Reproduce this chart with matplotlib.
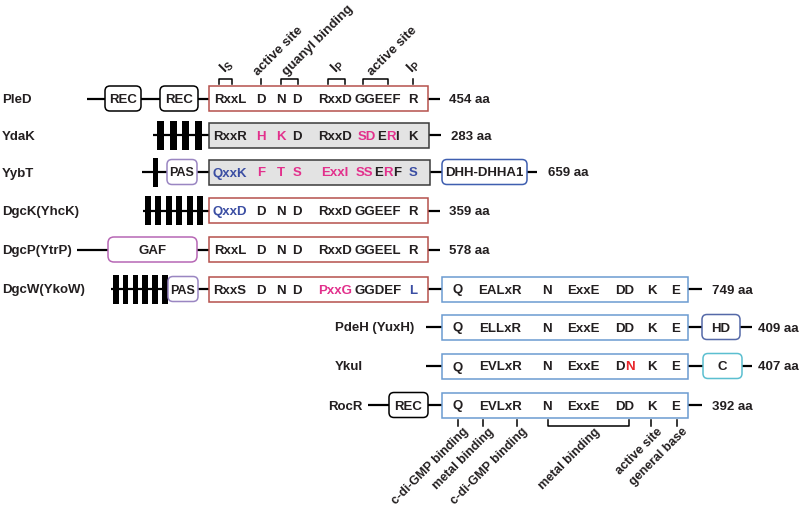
import matplotlib
matplotlib.use("Agg")
import matplotlib.pyplot as plt
from matplotlib.patches import FancyBboxPatch, Rectangle
from matplotlib.font_manager import FontProperties, findfont, get_font

plt.rcParams['font.family'] = ['Liberation Sans', 'DejaVu Sans']
plt.rcParams['mathtext.fontset'] = 'custom'
plt.rcParams['mathtext.rm'] = 'Liberation Sans:bold'
plt.rcParams['mathtext.bf'] = 'Liberation Sans:bold'

# ---------------- data ----------------
proteins = ["PleD", "YdaK", "YybT", "DgcK(YhcK)", "DgcP(YtrP)", "DgcW(YkoW)",
            "PdeH (YuxH)", "YkuI", "RocR"]
lengths = [454, 283, 659, 359, 578, 749, 409, 407, 392]

# GGDEF motifs (k = black, p = pink, b = blue, r = red per character)
pled_ggdef = ["RxxL", "D", "N", "D", "RxxD", "GGEEF", "R"]
pled_codes = ["kkkk", "k", "k", "k", "kkkk", "kkkkk", "k"]
ydak_ggdef = ["RxxR", "H", "K", "D", "RxxD", "SDERI", "K"]
ydak_codes = ["kkkk", "p", "p", "k", "kkkk", "ppkpk", "k"]
yybt_ggdef = ["QxxK", "F", "T", "S", "ExxI", "SSERF", "S"]
yybt_codes = ["bbbb", "p", "p", "p", "pppp", "ppkpk", "b"]
dgck_ggdef = ["QxxD", "D", "N", "D", "RxxD", "GGEEF", "R"]
dgck_codes = ["bbbb", "k", "k", "k", "kkkk", "kkkkk", "k"]
dgcp_ggdef = ["RxxL", "D", "N", "D", "RxxD", "GGEEL", "R"]
dgcp_codes = ["kkkk", "k", "k", "k", "kkkk", "kkkkk", "k"]
dgcw_ggdef = ["RxxS", "D", "N", "D", "PxxG", "GGDEF", "L"]
dgcw_codes = ["kkkk", "k", "k", "k", "pppp", "kkkkk", "b"]

# EAL motifs
dgcw_eal = ["Q", "EALxR", "N", "ExxE", "DD", "K", "E"]
dgcw_eal_codes = ["k", "kkkkk", "k", "kkkk", "kk", "k", "k"]
pdeh_eal = ["Q", "ELLxR", "N", "ExxE", "DD", "K", "E"]
pdeh_eal_codes = ["k", "kkkkk", "k", "kkkk", "kk", "k", "k"]
ykui_eal = ["Q", "EVLxR", "N", "ExxE", "DN", "K", "E"]
ykui_eal_codes = ["k", "kkkkk", "k", "kkkk", "kr", "k", "k"]
rocr_eal = ["Q", "EVLxR", "N", "ExxE", "DD", "K", "E"]
rocr_eal_codes = ["k", "kkkkk", "k", "kkkk", "kk", "k", "k"]

top_labels = [r"$\mathbf{I}_\mathbf{S}$", "active site", "guanyl binding",
              r"$\mathbf{I}_\mathbf{P}$", "active site", r"$\mathbf{I}_\mathbf{P}$"]
bottom_labels = ["c-di-GMP binding", "metal binding", "c-di-GMP binding",
                 "metal binding", "active site", "general base"]

# ---------------- styles / layout ----------------
TXT = '#231f20'
PINK = '#e2308c'
BLUE = '#3b4ea3'
RED = '#e8262b'
code_col = {'k': TXT, 'p': PINK, 'b': BLUE, 'r': RED}

C_GGDEF = '#b5514c'
C_GRAYE = '#3a3a3a'
C_GRAYF = '#e3e3e3'
C_EAL = '#6b9bd1'
C_PAS = '#9a86c2'
C_GAF = '#b767b5'
C_DHH = '#3f5fb0'
C_HD = '#5569a8'
C_C = '#5bbfd0'

FS = 9.5
DPI = 100
row_y = [98.5, 135, 172, 210.5, 249.5, 289, 327, 366, 405]
H = 25
ggdef_x = [230, 261, 281, 297, 335, 378, 413]
eal_x = [458, 500, 547, 583, 625, 652, 676]

fig = plt.figure(figsize=(8, 5.09), dpi=DPI)
ax = fig.add_axes([0, 0, 1, 1])
ax.set_xlim(0, 800)
ax.set_ylim(509, 0)
ax.axis('off')
renderer = fig.canvas.get_renderer()
fp = FontProperties(family=['Liberation Sans'], weight='bold', size=FS)
ftfont = get_font(findfont(fp))
ftfont.set_size(FS, DPI)


def glyph_metrics(ch):
    g = ftfont.load_char(ord(ch))
    return g.linearHoriAdvance / 65536.0, g.horiBearingX / 64.0


def twidth(s):
    t = ax.text(0, 0, s, fontproperties=fp)
    w = t.get_window_extent(renderer).width
    t.remove()
    return w


def colored(x, y, s, codes):
    runs = []
    start = 0
    for i in range(1, len(s) + 1):
        if i == len(s) or codes[i] != codes[start]:
            runs.append((start, i, codes[start]))
            start = i
    if len(runs) == 1:
        ax.text(x, y, s, color=code_col[codes[0]], fontproperties=fp,
                ha='center', va='center_baseline', zorder=5)
        return
    total = twidth(s)
    ink_left = x - total / 2
    origin = ink_left - glyph_metrics(s[0])[1]
    adv = [0.0]
    for ch in s:
        adv.append(adv[-1] + glyph_metrics(ch)[0])
    for a, b, c in runs:
        xi = origin + adv[a] + glyph_metrics(s[a])[1]
        ax.text(xi, y, s[a:b], color=code_col[c], fontproperties=fp,
                ha='left', va='center_baseline', zorder=5)


def backbone(x0, x1, y):
    ax.plot([x0, x1], [y, y], color='black', lw=1.6, zorder=1,
            solid_capstyle='butt')


def rbox(x0, x1, y, edge, text=None, fill='white', r=5, lw=1.1, fs=FS):
    p = FancyBboxPatch((x0, y - H / 2), x1 - x0, H,
                       boxstyle=f"round,pad=0,rounding_size={r}",
                       fc=fill, ec=edge, lw=lw, zorder=3)
    ax.add_patch(p)
    if text:
        ax.text((x0 + x1) / 2, y, text, ha='center', va='center_baseline',
                fontsize=fs, fontweight='bold', color=TXT, zorder=5)


def sbox(x0, x1, y, edge, fill='white'):
    ax.add_patch(Rectangle((x0, y - H / 2), x1 - x0, H, fc=fill, ec=edge,
                           lw=1.1, zorder=3))


def tms(x_start, n, period, y, w=5.5):
    for i in range(n):
        ax.add_patch(Rectangle((x_start + i * period, y - 14.5), w, 29,
                               fc='black', ec='none', zorder=3))


def name(x, y, s):
    ax.text(x, y, s, ha='left', va='center_baseline', fontsize=FS,
            fontweight='bold', color=TXT)


def aa(x, y, n):
    ax.text(x, y, f"{n} aa", ha='left', va='center_baseline', fontsize=FS,
            fontweight='bold', color=TXT)


def motifs(xs, y, items, codes):
    for x, s, c in zip(xs, items, codes):
        colored(x, y, s, c)


# names
name_x = [2, 2, 2, 2, 2, 2, 335, 335, 328]
for nx, y, p in zip(name_x, row_y, proteins):
    name(nx, y, p)

# ---- PleD ----
y = row_y[0]
backbone(87, 440, y)
rbox(105, 141, y, 'black', 'REC')
rbox(160, 198, y, 'black', 'REC')
sbox(209, 428, y, C_GGDEF)
motifs(ggdef_x, y, pled_ggdef, pled_codes)
aa(449, y, lengths[0])

# ---- YdaK ----
y = row_y[1]
backbone(153, 441, y)
tms(157, 4, 12.7, y, w=7)
sbox(209, 429, y, C_GRAYE, C_GRAYF)
motifs(ggdef_x, y, ydak_ggdef, ydak_codes)
aa(451, y, lengths[1])

# ---- YybT ----
y = row_y[2]
backbone(142, 537, y)
tms(152.5, 1, 10, y, w=5.5)
rbox(167, 197, y, C_PAS, 'PAS', fs=9)
sbox(209, 430, y, C_GRAYE, C_GRAYF)
motifs(ggdef_x, y, yybt_ggdef, yybt_codes)
rbox(442, 527, y, C_DHH, 'DHH-DHHA1')
aa(548, y, lengths[2])

# ---- DgcK ----
y = row_y[3]
backbone(143, 440, y)
tms(145, 6, 10.4, y, w=6)
sbox(209, 428, y, C_GGDEF)
motifs(ggdef_x, y, dgck_ggdef, dgck_codes)
aa(449, y, lengths[3])

# ---- DgcP ----
y = row_y[4]
backbone(77, 440, y)
rbox(108, 197, y, C_GAF, 'GAF', r=6)
sbox(209, 428, y, C_GGDEF)
motifs(ggdef_x, y, dgcp_ggdef, dgcp_codes)
aa(449, y, lengths[4])

# ---- DgcW ----
y = row_y[5]
backbone(111, 702, y)
tms(113, 6, 9.8, y, w=5.5)
rbox(168, 198, y, C_PAS, 'PAS', fs=9)
sbox(209, 428, y, C_GGDEF)
motifs(ggdef_x, y, dgcw_ggdef, dgcw_codes)
sbox(442, 688, y, C_EAL)
motifs(eal_x, y, dgcw_eal, dgcw_eal_codes)
aa(712, y, lengths[5])

# ---- PdeH ----
y = row_y[6]
backbone(426, 752, y)
sbox(442, 688, y, C_EAL)
motifs(eal_x, y, pdeh_eal, pdeh_eal_codes)
rbox(702, 740, y, C_HD, 'HD')
aa(758, y, lengths[6])

# ---- YkuI ----
y = row_y[7]
backbone(426, 752, y)
sbox(442, 688, y, C_EAL)
motifs(eal_x, y, ykui_eal, ykui_eal_codes)
rbox(703, 742, y, C_C, 'C')
aa(758, y, lengths[7])

# ---- RocR ----
y = row_y[8]
backbone(368, 702, y)
rbox(389, 428, y, 'black', 'REC')
sbox(442, 688, y, C_EAL)
motifs(eal_x, y, rocr_eal, rocr_eal_codes)
aa(712, y, lengths[8])

# ---- top annotations (above PleD) ----
top_marks = [(219, 232), (261, 261), (281, 298), (328, 345), (363, 388), (413, 413)]
yb0, yb1 = 84, 79
for (a, b), lab in zip(top_marks, top_labels):
    if a == b:
        ax.plot([a, a], [yb0, yb1], color='black', lw=1.1)
    else:
        ax.plot([a, a, b, b], [yb0, yb1, yb1, yb0], color='black', lw=1.1)
    xc = (a + b) / 2
    if lab.startswith('$'):
        ax.text(xc - 1, 74, lab, rotation=45, rotation_mode='anchor',
                ha='left', va='baseline', fontsize=10.5, color=TXT)
    else:
        ax.text(xc - 3, 76, lab, rotation=45, rotation_mode='anchor',
                ha='left', va='baseline', fontsize=9.5, fontweight='bold',
                color=TXT)

# ---- bottom annotations (below RocR) ----
bot_marks = [(458, 458), (483, 483), (517, 517), (548, 629), (651, 651), (677, 677)]
yt0, yt1 = 420, 426
for (a, b), lab in zip(bot_marks, bottom_labels):
    if a == b:
        ax.plot([a, a], [yt0, yt1], color='black', lw=1.1)
    else:
        ax.plot([a, a, b, b], [yt0, yt1, yt1, yt0], color='black', lw=1.1)
    xc = (a + b) / 2
    ax.text(xc + 5, 426, lab, rotation=45, rotation_mode='anchor',
            ha='right', va='top', fontsize=9, fontweight='bold', color=TXT)

fig.savefig('out.png', dpi=100, facecolor='white')
